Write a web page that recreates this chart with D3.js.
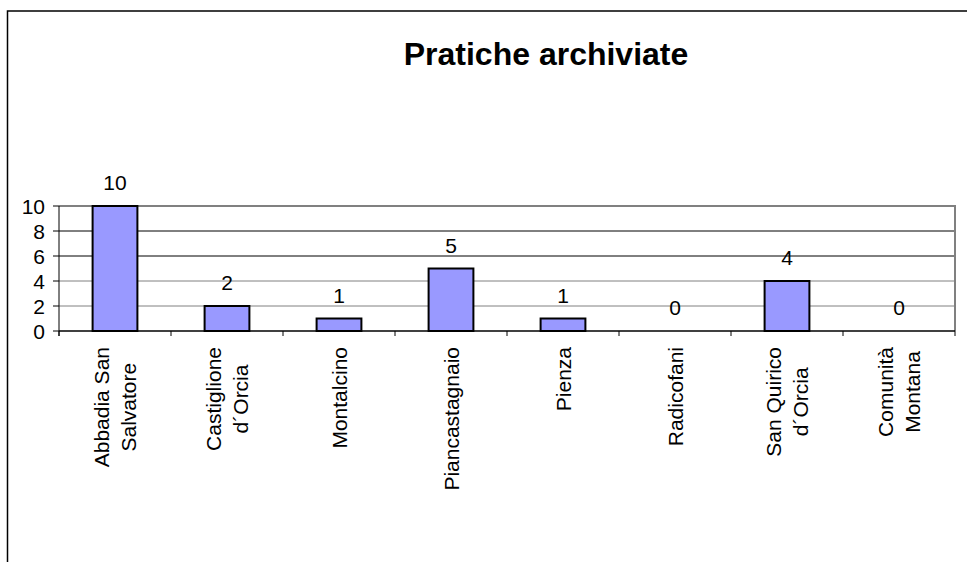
<!DOCTYPE html>
<html>
<head>
<meta charset="utf-8">
<script src="https://cdn.jsdelivr.net/npm/d3@7"></script>
<style>
  body { margin: 0; background: #fff; }
  svg { display: block; font-family: Arial, "Liberation Sans", sans-serif; }
</style>
</head>
<body>
<svg width="967" height="562"></svg>
<script>
// dati del grafico
const comuni = [
  ["Abbadia San", "Salvatore"],
  ["Castiglione", "d\u00B4Orcia"],
  ["Montalcino"],
  ["Piancastagnaio"],
  ["Pienza"],
  ["Radicofani"],
  ["San Quirico", "d\u00B4Orcia"],
  ["Comunità", "Montana"]
];
const pratiche = [10, 2, 1, 5, 1, 0, 4, 0];
const yTicks = [0, 2, 4, 6, 8, 10];
const titolo = "Pratiche archiviate";

const svg = d3.select("svg");

// cornice esterna
svg.append("rect")
  .attr("x", 7.5).attr("y", 11)
  .attr("width", 1000).attr("height", 600)
  .attr("fill", "none").attr("stroke", "#000").attr("stroke-width", 1.5);

const pLeft = 59, pRight = 955, pTop = 206, pBottom = 331;

const x = d3.scaleBand()
  .domain(d3.range(comuni.length))
  .range([pLeft, pRight])
  .padding(0);

const y = d3.scaleLinear().domain([0, 10]).range([pBottom, pTop]);

// griglia
svg.append("g")
  .selectAll("line")
  .data(yTicks.filter(d => d > 0 && d < 10))
  .enter().append("line")
  .attr("x1", pLeft).attr("x2", pRight)
  .attr("y1", d => y(d)).attr("y2", d => y(d))
  .attr("stroke", d => (d >= 6 ? "#000" : "#808080"))
  .attr("stroke-width", 1);

// bordo area del grafico
svg.append("path")
  .attr("d", `M${pLeft},${pTop}H${pRight}V${pBottom}`)
  .attr("fill", "none")
  .attr("stroke", "#808080")
  .attr("stroke-width", 2);

// barre
const barW = x.bandwidth() * 0.4;
svg.append("g")
  .selectAll("rect")
  .data(pratiche)
  .enter().append("rect")
  .attr("x", (d, i) => x(i) + (x.bandwidth() - barW) / 2)
  .attr("y", d => y(d))
  .attr("width", barW)
  .attr("height", d => y(0) - y(d))
  .attr("fill", "#9999FF")
  .attr("stroke", "#000")
  .attr("stroke-width", 2);

// etichette valori
svg.append("g")
  .selectAll("text")
  .data(pratiche)
  .enter().append("text")
  .attr("x", (d, i) => x(i) + x.bandwidth() / 2)
  .attr("y", d => y(d) - 16)
  .attr("text-anchor", "middle")
  .attr("font-size", 21)
  .attr("fill", "#000")
  .text(d => d);

// asse y
const yAxis = svg.append("g");
yAxis.append("line")
  .attr("x1", pLeft).attr("x2", pLeft)
  .attr("y1", pTop).attr("y2", pBottom + 5)
  .attr("stroke", "#000").attr("stroke-width", 1);
yAxis.selectAll(".tick")
  .data(yTicks)
  .enter().append("line")
  .attr("x1", pLeft - 6).attr("x2", pLeft)
  .attr("y1", d => y(d)).attr("y2", d => y(d))
  .attr("stroke", "#000");
yAxis.selectAll("text")
  .data(yTicks)
  .enter().append("text")
  .attr("x", 45)
  .attr("y", d => y(d) + 7.5)
  .attr("text-anchor", "end")
  .attr("font-size", 21)
  .text(d => d);

// asse x
const xAxis = svg.append("g");
xAxis.append("line")
  .attr("x1", pLeft).attr("x2", pRight)
  .attr("y1", pBottom).attr("y2", pBottom)
  .attr("stroke", "#000").attr("stroke-width", 1.5);
xAxis.selectAll("line.tk")
  .data(d3.range(comuni.length + 1))
  .enter().append("line")
  .attr("class", "tk")
  .attr("x1", i => pLeft + i * x.step()).attr("x2", i => pLeft + i * x.step())
  .attr("y1", pBottom).attr("y2", pBottom + 5)
  .attr("stroke", "#000");

const labels = xAxis.selectAll("g.lbl")
  .data(comuni)
  .enter().append("g")
  .attr("class", "lbl")
  .attr("transform", (d, i) => `translate(${x(i) + x.bandwidth() / 2},347) rotate(-90)`);

labels.each(function(lines) {
  const g = d3.select(this);
  const n = lines.length;
  const ts = lines.map((l, k) => g.append("text")
    .attr("font-size", 21)
    .attr("text-anchor", "middle")
    .attr("y", 7.5 + (k - (n - 1) / 2) * 27)
    .text(l));
  const maxLen = d3.max(ts, t => t.node().getComputedTextLength());
  ts.forEach(t => t.attr("x", -maxLen / 2));
});

// titolo
svg.append("text")
  .attr("x", 546)
  .attr("y", 65)
  .attr("text-anchor", "middle")
  .attr("font-size", 32)
  .attr("font-weight", "bold")
  .text(titolo);
</script>
</body>
</html>
